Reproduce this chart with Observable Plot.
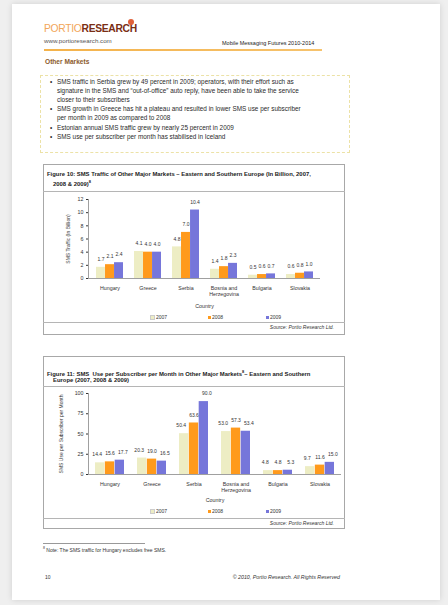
<!DOCTYPE html>
<html><head><meta charset="utf-8">
<script src="https://cdn.jsdelivr.net/npm/d3@7"></script>
<script src="https://cdn.jsdelivr.net/npm/@observablehq/plot@0.6"></script>
<style>
html,body{margin:0;padding:0;}
body{width:448px;height:605px;background:#efefef;position:relative;overflow:hidden;font-family:"Liberation Sans",Arial,sans-serif;color:#222;}
.a{position:absolute;white-space:nowrap;}
#page{position:absolute;left:12px;top:4px;width:428px;height:596px;background:#fff;box-shadow:0 0 6px rgba(0,0,0,0.13);}
.box{position:absolute;border:1px solid #a8a8a8;box-sizing:border-box;}
.sep{position:absolute;height:1px;background:#b5b5b5;}
.ttl{font-weight:bold;font-size:5.9px;line-height:8px;}
.src{font-style:italic;font-size:5px;color:#333;}
.bul{font-size:6.4px;line-height:9.2px;color:#2a2a2a;}
.leg{font-size:5px;color:#333;display:flex;align-items:center;}
.leg i{display:inline-block;width:3px;height:3px;margin-right:1px;}
</style></head><body>
<div id="page"></div>
<div class="a" style="left:44px;top:23px;font-size:10.3px;letter-spacing:-0.3px;"><span style="color:#f2a65a;">PORTIO</span><span style="color:#7a2e14;font-weight:bold;">RESEARCH</span></div>
<div class="a" style="left:128px;top:19px;width:6px;height:6px;border-radius:50%;background:#e0603a;"></div>
<div class="a" style="left:44px;top:37px;font-size:6.2px;color:#555;">www.portioresearch.com</div>
<div class="a" style="left:222px;top:40px;font-size:5.5px;color:#222;">Mobile Messaging Futures 2010-2014</div>
<div class="a" style="left:44px;top:49px;width:278px;height:2px;background:linear-gradient(90deg,#f4b24a,#f6c36e);"></div>
<div class="a" style="left:45px;top:58px;font-size:6.6px;font-weight:bold;color:#8b5a2b;">Other Markets</div>
<div class="a" style="left:40px;top:75px;width:310px;height:78px;border:1px dashed #ece2a6;box-sizing:border-box;"></div>
<div class="a bul" style="left:50px;top:76.5px;">•<br><br><br>•<br><br>•<br>•</div>
<div class="a bul" style="left:57px;top:76.5px;">SMS traffic in Serbia grew by 49 percent in 2009; operators, with their effort such as<br>signature in the SMS and “out-of-office” auto reply, have been able to take the service<br>closer to their subscribers<br>SMS growth in Greece has hit a plateau and resulted in lower SMS use per subscriber<br>per month in 2009 as compared to 2008<br>Estonian annual SMS traffic grew by nearly 25 percent in 2009<br>SMS use per subscriber per month has stabilised in Iceland</div>

<div class="box" style="left:43px;top:164px;width:302px;height:171px;"></div>
<div class="a ttl" style="left:47px;top:170px;">Figure 10: SMS Traffic of Other Major Markets – Eastern and Southern Europe (In Billion, 2007,</div>
<div class="a ttl" style="left:53px;top:178px;">2008 &amp; 2009)<sup style="font-size:4px;">8</sup></div>
<div class="sep" style="left:43px;top:191px;width:302px;"></div>
<div class="a" id="c1" style="left:43px;top:193px;"></div>
<div class="a" id="l1" style="left:150px;top:314px;width:140px;height:6px;"></div>
<div class="sep" style="left:43px;top:322px;width:302px;"></div>
<div class="a src" style="right:114px;top:324px;">Source: Portio Research Ltd.</div>

<div class="box" style="left:43px;top:356px;width:302px;height:173px;"></div>
<div class="a ttl" style="left:47px;top:368px;">Figure 11: SMS &nbsp;Use per Subscriber per Month in Other Major Markets<sup style="font-size:4px;">8</sup>– Eastern and Southern</div>
<div class="a ttl" style="left:53px;top:376px;">Europe (2007, 2008 &amp; 2009)</div>
<div class="sep" style="left:43px;top:386px;width:302px;"></div>
<div class="a" id="c2" style="left:43px;top:388px;"></div>
<div class="a" id="l2" style="left:150px;top:508px;width:140px;height:6px;"></div>
<div class="sep" style="left:43px;top:518px;width:302px;"></div>
<div class="a src" style="right:114px;top:520px;">Source: Portio Research Ltd.</div>

<div class="a" style="left:43px;top:543px;width:102px;height:1px;background:#999;"></div>
<div class="a" style="left:43px;top:546px;font-size:5px;color:#333;"><sup style="font-size:3.5px;">8</sup> Note: The SMS traffic for Hungary excludes free SMS.</div>
<div class="a" style="left:45px;top:574px;font-size:5px;color:#333;">10</div>
<div class="a" style="right:108px;top:574px;font-size:5.3px;font-style:italic;color:#333;">© 2010, Portio Research. All Rights Reserved</div>

<script>
const countries = ["Hungary","Greece","Serbia","Bosnia and Herzegovina","Bulgaria","Slovakia"];
const years = ["2007","2008","2009"];
const yearColors = ["#ededc4","#ff9a1c","#7676da"];

const traffic2007 = [1.7,4.1,4.8,1.4,0.5,0.6];
const traffic2008 = [2.1,4.0,7.0,1.8,0.6,0.8];
const traffic2009 = [2.4,4.0,10.4,2.3,0.7,1.0];
const trafficTicks = [0,2,4,6,8,10,12];
const trafficLabel = "SMS Traffic (In Billion)";

const use2007 = [14.4,20.3,50.4,53.0,4.8,9.7];
const use2008 = [15.6,19.0,63.6,57.3,4.8,11.6];
const use2009 = [17.7,16.5,90.0,53.4,5.3,15.0];
const useTicks = [0,25,50,75,100];
const useLabel = "SMS Use per Subscriber per Month";

const fmt = d3.format(".1f");

function chart(series, ticks, yLabel, o) {
  const pi = 0.3, po = 0.15;
  const pw = o.width - o.ml - o.mr;
  const bw = pw / (countries.length - pi + 2 * po) * (1 - pi);
  const b = bw / 3;
  const marks = [];
  series.forEach((vals, i) => {
    const rows = countries.map((c, j) => ({country: c, value: vals[j]}));
    marks.push(Plot.barY(rows, {x: "country", y: "value", fill: yearColors[i],
      insetLeft: b * i, insetRight: b * (2 - i)}));
    marks.push(Plot.text(rows, {x: "country", y: "value", text: d => fmt(d.value),
      dx: (i - 1) * b * o.spread, dy: -8, fontSize: 5, fill: "#333"}));
  });
  marks.push(Plot.ruleY([0], {stroke: "#a0a0a0"}));
  marks.push(Plot.frame({anchor: "left", stroke: "#a0a0a0"}));
  marks.push(Plot.text([yLabel], {text: d => d, frameAnchor: "left", textAnchor: "middle", rotate: -90, dx: -o.yl, fontSize: 5, fill: "#333"}));
  return Plot.plot({
    width: o.width, height: o.height,
    marginLeft: o.ml, marginRight: o.mr, marginTop: o.mt, marginBottom: o.mb,
    style: {fontFamily: "Liberation Sans, Arial, sans-serif", fontSize: "5.3px", color: "#333", background: "transparent"},
    x: {domain: countries, paddingInner: pi, paddingOuter: po, tickSize: 0, tickPadding: 8,
        tickFormat: d => d.replace(" and ", " and\n"), label: "Country", labelAnchor: "center", labelOffset: o.lo},
    y: {domain: [ticks[0], ticks[ticks.length - 1]], ticks: ticks, tickSize: 2, tickPadding: 3, label: null},
    marks
  });
}

function legend(el) {
  years.forEach((y, i) => {
    const s = document.createElement("div");
    s.className = "leg";
    s.style.position = "absolute";
    s.style.left = (i * 58) + "px";
    s.style.top = "0px";
    s.innerHTML = `<i style="background:${yearColors[i]};border:${i===0?'0.5px solid #ccc':'none'}"></i>${y}`;
    el.appendChild(s);
  });
}

document.getElementById("c1").appendChild(chart([traffic2007, traffic2008, traffic2009], trafficTicks, trafficLabel,
  {width: 302, height: 120, ml: 45, mr: 25, mt: 6, mb: 35, yl: 20, lo: 29, spread: 1}));
document.getElementById("c2").appendChild(chart([use2007, use2008, use2009], useTicks, useLabel,
  {width: 302, height: 120, ml: 45, mr: 4, mt: 5, mb: 34, yl: 27, lo: 27, spread: 1.3}));
legend(document.getElementById("l1"));
legend(document.getElementById("l2"));
</script>
</body></html>
